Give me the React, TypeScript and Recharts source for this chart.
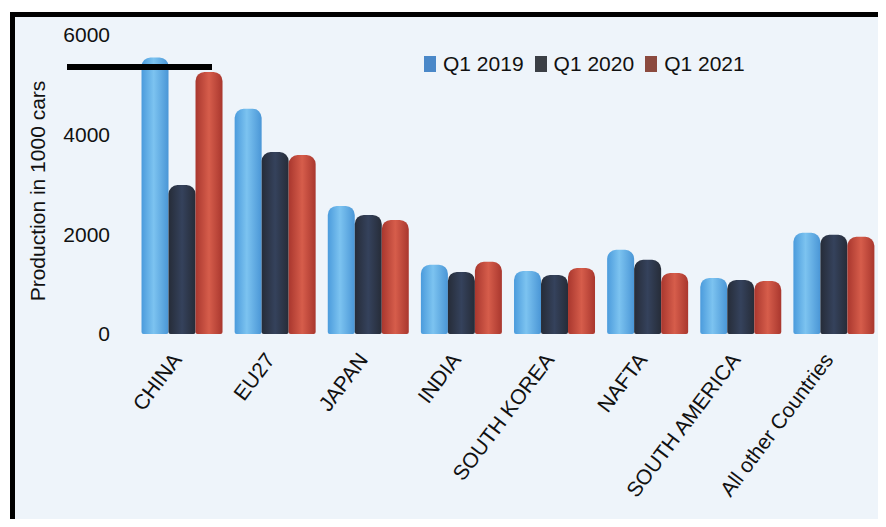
import { BarChart, Bar, XAxis, YAxis, Legend, ReferenceLine, Label } from "recharts";

const REGIONS = [
  "CHINA",
  "EU27",
  "JAPAN",
  "INDIA",
  "SOUTH KOREA",
  "NAFTA",
  "SOUTH AMERICA",
  "All other Countries",
];
const Q1_2019 = [5550, 4520, 2570, 1390, 1265, 1690, 1125, 2030];
const Q1_2020 = [2990, 3650, 2390, 1245, 1185, 1490, 1085, 1990];
const Q1_2021 = [5260, 3590, 2290, 1450, 1325, 1225, 1065, 1950];
const Y_TICKS = [0, 2000, 4000, 6000];
const MARKER_LEVEL = 5360;

const SERIES = [
  { key: "q2019", name: "Q1 2019", grad: "gBlue", swatch: "#4a88c8" },
  { key: "q2020", name: "Q1 2020", grad: "gDark", swatch: "#3b3f45" },
  { key: "q2021", name: "Q1 2021", grad: "gRed", swatch: "#8b4a3f" },
];

const DATA = REGIONS.map((r, i) => ({
  region: r,
  q2019: Q1_2019[i],
  q2020: Q1_2020[i],
  q2021: Q1_2021[i],
}));

const FONT = '"Liberation Sans", Arial, sans-serif';

function CountryTick({ x, y, payload }: any) {
  const ax = x + 1;
  return (
    <text
      x={ax}
      y={y}
      textAnchor="end"
      transform={`rotate(-53, ${ax}, ${y})`}
      fontSize={21}
      fontFamily={FONT}
      fill="#111"
    >
      {payload.value}
    </text>
  );
}

function renderLegend() {
  return (
    <div style={{ display: "flex", alignItems: "center", height: 24, fontFamily: FONT, fontSize: 21, color: "#111", whiteSpace: "nowrap" }}>
      {SERIES.map((s) => (
        <div key={s.key} style={{ display: "flex", alignItems: "center", marginRight: 11 }}>
          <span style={{ display: "inline-block", width: 12, height: 16, background: s.swatch, marginRight: 7 }} />
          <span>{s.name}</span>
        </div>
      ))}
    </div>
  );
}

export default function App() {
  return (
    <div style={{ position: "relative", width: 886, height: 527, margin: -8, background: "#fff", overflow: "hidden" }}>
      <div
        style={{
          position: "absolute",
          left: 10,
          top: 12,
          width: 876,
          height: 520,
          border: "5px solid #000",
          boxSizing: "border-box",
          background: "#eef4fa",
        }}
      />
      <div style={{ position: "absolute", left: 0, top: 0 }}>
        <BarChart
          width={886}
          height={527}
          data={DATA}
          margin={{ top: 35, right: 6, bottom: 163, left: 0 }}
          barCategoryGap="7%"
          barGap={0}
        >
          <defs>
            <linearGradient id="gBlue" x1="0" y1="0" x2="1" y2="0">
              <stop offset="0%" stopColor="#4b9bdc" />
              <stop offset="45%" stopColor="#7cc3f0" />
              <stop offset="100%" stopColor="#4a96d6" />
            </linearGradient>
            <linearGradient id="gDark" x1="0" y1="0" x2="1" y2="0">
              <stop offset="0%" stopColor="#262c38" />
              <stop offset="50%" stopColor="#35425c" />
              <stop offset="100%" stopColor="#262c38" />
            </linearGradient>
            <linearGradient id="gRed" x1="0" y1="0" x2="1" y2="0">
              <stop offset="0%" stopColor="#a9372e" />
              <stop offset="50%" stopColor="#d65d4b" />
              <stop offset="100%" stopColor="#a9372e" />
            </linearGradient>
          </defs>
          <XAxis
            dataKey="region"
            interval={0}
            axisLine={false}
            tickLine={false}
            tickSize={0}
            tickMargin={26}
            tick={<CountryTick />}
          />
          <YAxis
            width={135}
            domain={[0, 6000]}
            ticks={Y_TICKS}
            axisLine={false}
            tickLine={false}
            tickSize={0}
            tickMargin={25}
            tick={{ fontSize: 21, fill: "#111", fontFamily: FONT }}
          >
            <Label
              content={() => (
                <text
                  x={37}
                  y={191}
                  transform="rotate(-90, 37, 191)"
                  textAnchor="middle"
                  dominantBaseline="central"
                  fontSize={21}
                  fontFamily={FONT}
                  fill="#111"
                >
                  Production in 1000 cars
                </text>
              )}
            />
          </YAxis>
          <Legend
            layout="horizontal"
            verticalAlign="middle"
            align="center"
            content={renderLegend}
            wrapperStyle={{ left: 424, top: 52, width: "auto" }}
          />
          {SERIES.map((s) => (
            <Bar
              key={s.key}
              dataKey={s.key}
              name={s.name}
              fill={`url(#${s.grad})`}
              radius={[9, 9, 2, 2]}
              isAnimationActive={false}
            />
          ))}
          <ReferenceLine
            y={MARKER_LEVEL}
            ifOverflow="visible"
            shape={(p: any) => (
              <line x1={67} x2={212} y1={p.y1} y2={p.y1} stroke="#000" strokeWidth={6} />
            )}
          />
        </BarChart>
      </div>
    </div>
  );
}
